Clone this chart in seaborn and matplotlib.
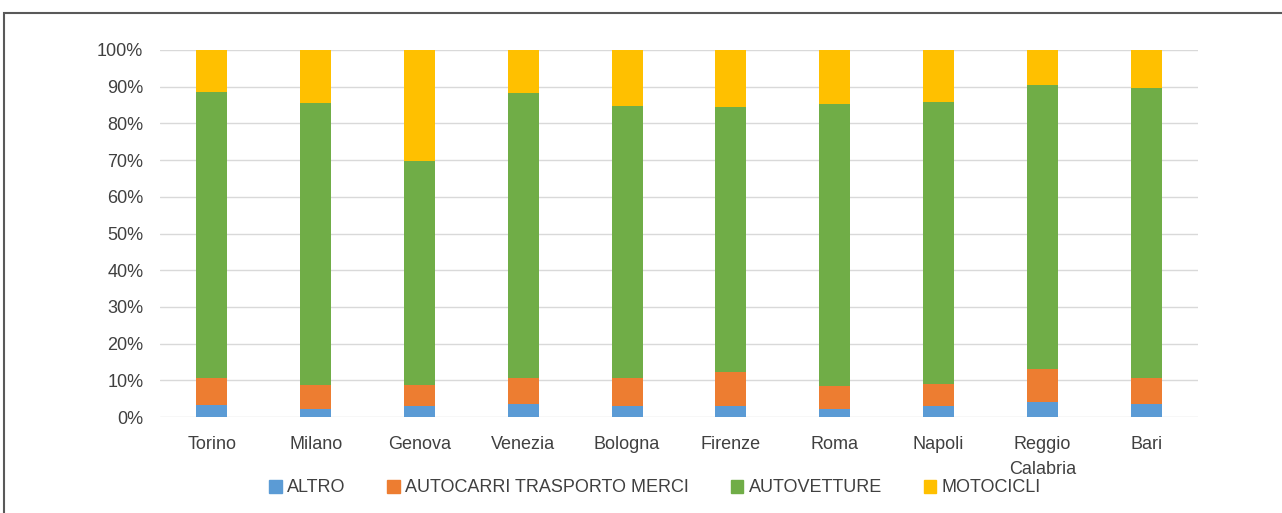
import pandas as pd
import matplotlib.pyplot as plt
import matplotlib.patches as mpatches
import seaborn as sns

# Dati (quota % per tipologia di veicolo)
citta = ["Torino", "Milano", "Genova", "Venezia", "Bologna", "Firenze",
         "Roma", "Napoli", "Reggio\nCalabria", "Bari"]
altro = [3.3, 2.3, 3.0, 3.6, 3.0, 3.0, 2.3, 3.0, 4.2, 3.6]
autocarri = [7.4, 6.3, 5.7, 7.0, 7.6, 9.3, 6.1, 6.0, 8.8, 7.0]
autovetture = [77.8, 77.0, 61.1, 77.7, 74.1, 72.2, 76.9, 76.8, 77.5, 79.0]
motocicli = [11.5, 14.4, 30.2, 11.7, 15.3, 15.5, 14.7, 14.2, 9.5, 10.4]

serie = ["ALTRO", "AUTOCARRI TRASPORTO MERCI", "AUTOVETTURE", "MOTOCICLI"]
colori = ["#5b9bd5", "#ed7d31", "#70ad47", "#ffc000"]

df = pd.DataFrame({"Citta": citta, "ALTRO": altro,
                   "AUTOCARRI TRASPORTO MERCI": autocarri,
                   "AUTOVETTURE": autovetture, "MOTOCICLI": motocicli})
df = df.melt(id_vars="Citta", var_name="Tipo", value_name="Quota")
df["Quota"] = df["Quota"] / 100

sns.set_style("white")
plt.rcParams["font.family"] = ["Liberation Sans", "DejaVu Sans"]

fig = plt.figure(figsize=(12.82, 5.13), dpi=100)
ax = fig.add_axes([160 / 1282, 1 - 417 / 513, 1038 / 1282, 367 / 513])

# histplot impila il primo livello in alto: ordine invertito
sns.histplot(data=df, x="Citta", hue="Tipo", weights="Quota", multiple="stack",
             hue_order=serie[::-1], palette=colori[::-1], shrink=0.3, alpha=1,
             linewidth=0, discrete=True, ax=ax, legend=False)

ax.set_xlim(-0.5, len(citta) - 0.5)
ax.set_ylim(0, 1.0)
ax.set_yticks([i / 10 for i in range(11)])
ax.set_yticklabels([f"{i * 10}%" for i in range(11)], fontsize=13, color="#404040")
ax.set_xticks(range(len(citta)))
ax.set_xticklabels(citta, fontsize=13, color="#404040", linespacing=1.55)
ax.tick_params(axis="y", length=0, pad=12)
ax.tick_params(axis="x", length=0, pad=14)
ax.set_xlabel("")
ax.set_ylabel("")
ax.grid(axis="y", color="#d9d9d9", linewidth=1)
ax.set_axisbelow(True)
for s in ax.spines.values():
    s.set_visible(False)

handles = [mpatches.Patch(color=c, label=l) for c, l in zip(colori, serie)]
fig.legend(handles=handles, loc="center", bbox_to_anchor=(655 / 1282, 1 - 488 / 513),
           ncol=4, frameon=False, fontsize=13, handlelength=0.7, handleheight=0.7,
           handletextpad=0.3, columnspacing=2.3, labelcolor="#404040")

# cornice del grafico
fig.patches.append(mpatches.Rectangle((4 / 1282, -0.01), 1.01, 1 - 13 / 513 + 0.01,
                                      transform=fig.transFigure, fill=False,
                                      edgecolor="#595959", linewidth=1.5))

fig.savefig("out.png", dpi=100)
